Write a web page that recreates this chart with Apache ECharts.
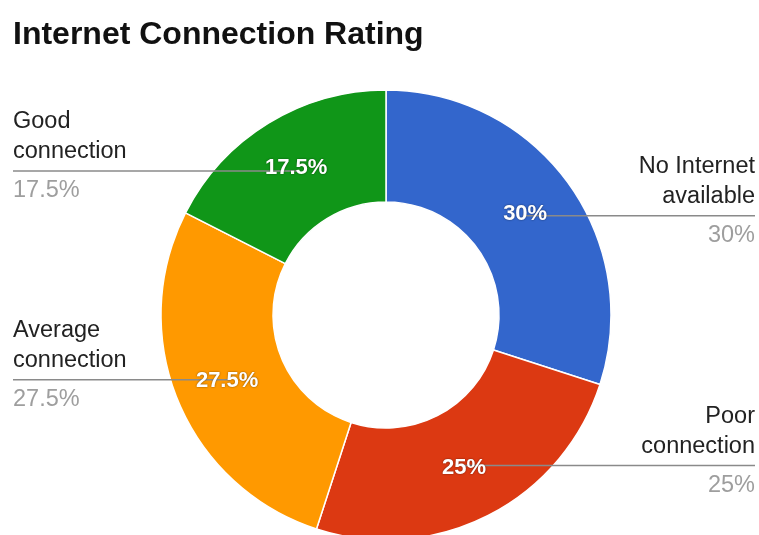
<!DOCTYPE html>
<html>
<head>
<meta charset="utf-8">
<style>
  html, body { margin: 0; padding: 0; background: #fff; }
  #chart { width: 759px; height: 535px; }
</style>
<script src="https://cdn.jsdelivr.net/npm/echarts@6/dist/echarts.min.js"></script>
</head>
<body>
<div id="chart"></div>
<script>
// ---- data ----
const categories = ['No Internet\navailable', 'Poor\nconnection', 'Average\nconnection', 'Good\nconnection'];
const values = [30, 25, 27.5, 17.5];
const colors = ['#3366cc', '#dc3912', '#ff9900', '#109618'];
const titleText = 'Internet Connection Rating';

// ---- layout ----
const CX = 386, CY = 315, R0 = 113, R = 225;
const MID_R = (R0 + R) / 2;
const LEFT_EDGE = 13, RIGHT_EDGE = 755;
const FONT = '"Liberation Sans", Arial, Helvetica, sans-serif';

const baseData = categories.map((c, i) => ({ name: c, value: values[i] }));
const colorData = categories.map((c, i) => ({ name: c, value: values[i], itemStyle: { color: colors[i] } }));

const chart = echarts.init(document.getElementById('chart'), null, { renderer: 'canvas' });

const common = {
  type: 'pie',
  center: [CX, CY],
  radius: [R0, R],
  startAngle: 90,
  clockwise: true,
  avoidLabelOverlap: false,
  silent: true,
  emphasis: { disabled: true }
};

chart.setOption({
  backgroundColor: '#ffffff',
  animation: false,
  title: {
    text: titleText,
    left: 13, top: 19, padding: 0,
    textStyle: { fontFamily: FONT, fontSize: 32, fontWeight: 'bold', color: '#111', lineHeight: 32 }
  },
  series: [
    Object.assign({}, common, {
      z: 1,
      itemStyle: { borderColor: '#ffffff', borderWidth: 1.5 },
      data: colorData,
      label: { show: false },
      labelLine: { show: false }
    }),
    Object.assign({}, common, {
      z: 2,
      itemStyle: { color: 'rgba(0,0,0,0)' },
      data: baseData,
      label: {
        show: true,
        position: 'outside',
        overflow: 'none',
        padding: [0, 0, 21, 0],
        formatter: p => '{n|' + p.name.split('\n').join('}\n{n|') + '}\n{v|' + p.value + '%}',
        rich: {
          n: { fontFamily: FONT, fontSize: 23.5, lineHeight: 30, color: '#222222' },
          v: { fontFamily: FONT, fontSize: 23.5, lineHeight: 48, color: '#9e9e9e' }
        }
      },
      labelLine: {
        show: true, length: 5, length2: 5,
        lineStyle: { color: '#8a8a8a', width: 1.5 }
      },
      labelLayout: function (params) {
        const p0 = params.labelLinePoints[0];
        const k = MID_R / R;
        const sx = CX + (p0[0] - CX) * k;
        const sy = CY + (p0[1] - CY) * k;
        const isLeft = sx < CX;
        const ex = isLeft ? LEFT_EDGE : RIGHT_EDGE;
        return {
          x: ex,
          y: sy,
          align: isLeft ? 'left' : 'right',
          verticalAlign: 'middle',
          labelLinePoints: [[sx, sy], [ex, sy]]
        };
      }
    }),
    Object.assign({}, common, {
      z: 3,
      itemStyle: { color: 'rgba(0,0,0,0)' },
      data: baseData,
      label: {
        show: true,
        position: 'inside',
        formatter: '{c}%',
        fontFamily: FONT,
        fontSize: 22,
        fontWeight: 'bold',
        color: '#ffffff',
        textShadowColor: 'rgba(0,0,0,0.55)',
        textShadowBlur: 2,
        textShadowOffsetX: 0,
        textShadowOffsetY: 0
      },
      labelLine: { show: false }
    })
  ]
});
</script>
</body>
</html>
